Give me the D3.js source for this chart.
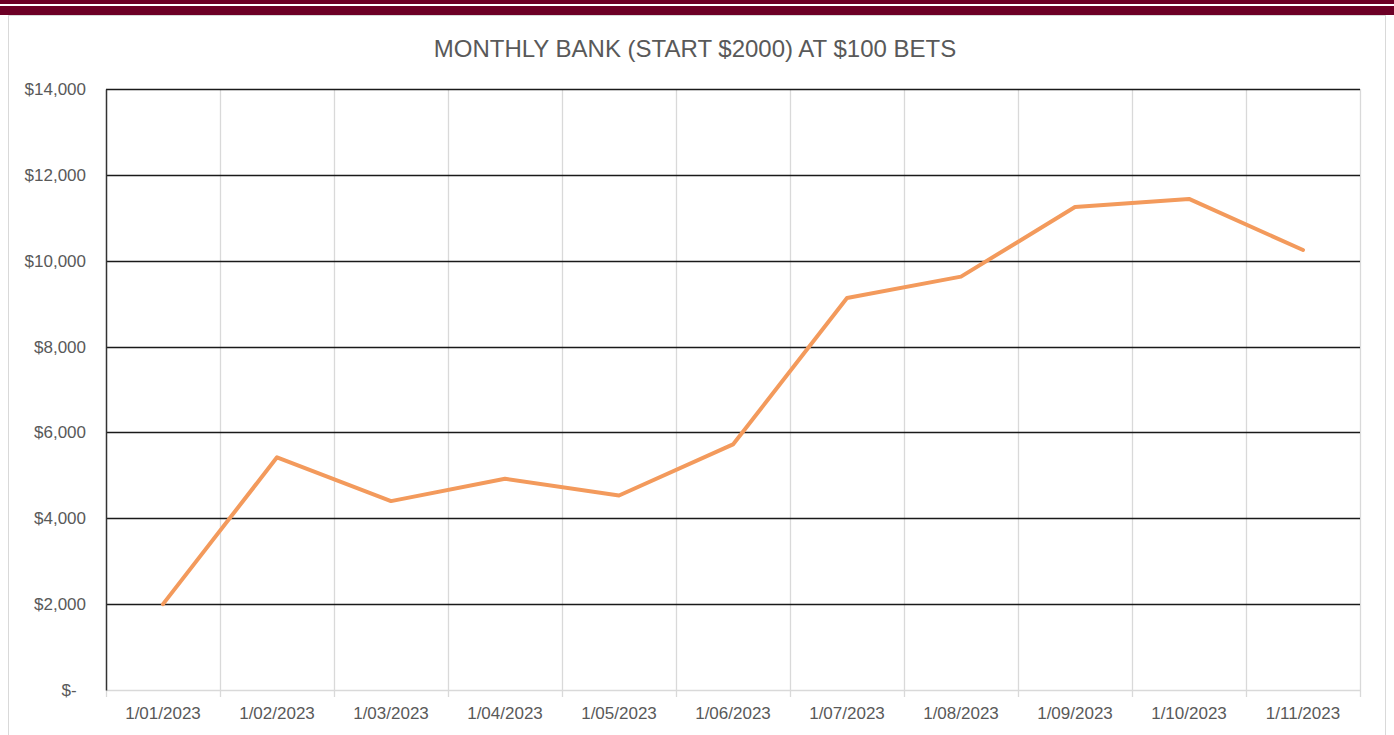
<!DOCTYPE html>
<html>
<head>
<meta charset="utf-8">
<script src="https://cdn.jsdelivr.net/npm/d3@7"></script>
<style>
  body { margin: 0; background: #fff; }
  text { font-family: 'Liberation Sans', Arial, sans-serif; }
</style>
</head>
<body>
<div id="chart"></div>
<script>
// data
const months = [ '1/01/2023', '1/02/2023', '1/03/2023', '1/04/2023', '1/05/2023', '1/06/2023',
                 '1/07/2023', '1/08/2023', '1/09/2023', '1/10/2023', '1/11/2023' ];
const bank = [ 2000, 5420, 4400, 4920, 4530, 5720, 9130, 9630, 11250, 11440, 10250 ];
const yTicks = [ 0, 2000, 4000, 6000, 8000, 10000, 12000, 14000 ];

const width = 1394, height = 735;
const margin = { top: 89, right: 34, bottom: 45, left: 106 },
    plotWidth = width - margin.left - margin.right,
    plotHeight = height - margin.top - margin.bottom;

const svg = d3.select( '#chart' )
  .append( 'svg' )
    .attr( 'width', width )
    .attr( 'height', height );

// maroon header strips
svg.append( 'rect' ).attr( 'x', 0 ).attr( 'y', 0 ).attr( 'width', width ).attr( 'height', 4 ).attr( 'fill', '#6d0026' );
svg.append( 'rect' ).attr( 'x', 0 ).attr( 'y', 6 ).attr( 'width', width ).attr( 'height', 9 ).attr( 'fill', '#6d0026' );

// chart frame
svg.append( 'rect' )
  .attr( 'x', 8.5 ).attr( 'y', 15.5 )
  .attr( 'width', 1377 ).attr( 'height', 740 )
  .attr( 'fill', 'none' ).attr( 'stroke', '#d9d9d9' );

svg.append( 'text' )
  .attr( 'x', 695 ).attr( 'y', 57 )
  .attr( 'text-anchor', 'middle' )
  .attr( 'fill', '#595959' )
  .style( 'font-size', '24px' )
  .text( 'MONTHLY BANK (START $2000) AT $100 BETS' );

const g = svg.append( 'g' )
  .attr( 'transform', 'translate(' + margin.left + ',' + margin.top + ')' );

const x = d3.scaleBand()
  .domain( months )
  .range( [ 0, plotWidth ] );

const y = d3.scaleLinear()
  .domain( [ 0, 14000 ] )
  .range( [ plotHeight, 0 ] );

// vertical light gridlines at category boundaries
g.append( 'g' )
  .selectAll( 'line' )
  .data( months )
  .enter().append( 'line' )
    .attr( 'x1', function( d ) { return Math.round( x( d ) + x.bandwidth() ) + 0.5; } )
    .attr( 'x2', function( d ) { return Math.round( x( d ) + x.bandwidth() ) + 0.5; } )
    .attr( 'y1', 0 )
    .attr( 'y2', plotHeight + 7 )
    .attr( 'stroke', '#d9d9d9' )
    .attr( 'stroke-width', 1.3 );

// x axis
const xAxis = g.append( 'g' )
  .attr( 'transform', 'translate(0,' + plotHeight + ')' )
  .call( d3.axisBottom( x ).tickSize( 0 ).tickPadding( 17 ) );
xAxis.select( '.domain' ).attr( 'stroke', '#d9d9d9' ).attr( 'stroke-width', 1.3 );
xAxis.selectAll( 'text' ).attr( 'fill', '#595959' ).style( 'font-size', '17px' );
g.append( 'line' )
  .attr( 'x1', 0.5 ).attr( 'x2', 0.5 )
  .attr( 'y1', plotHeight ).attr( 'y2', plotHeight + 7 )
  .attr( 'stroke', '#d9d9d9' ).attr( 'stroke-width', 1.3 );

// horizontal gridlines
g.append( 'g' )
  .selectAll( 'line' )
  .data( yTicks.filter( function( d ) { return d > 0; } ) )
  .enter().append( 'line' )
    .attr( 'x1', 0 ).attr( 'x2', plotWidth )
    .attr( 'y1', function( d ) { return Math.round( y( d ) ) + 0.5; } )
    .attr( 'y2', function( d ) { return Math.round( y( d ) ) + 0.5; } )
    .attr( 'stroke', '#1a1a1a' )
    .attr( 'stroke-width', 1.3 );

// y axis
const yAxis = g.append( 'g' )
  .call( d3.axisLeft( y ).tickValues( yTicks ).tickSize( 0 ).tickPadding( 20 )
    .tickFormat( function( d ) { return d === 0 ? '$-  ' : '$' + d3.format( ',' )( d ); } ) );
yAxis.select( '.domain' ).attr( 'stroke', '#333' ).attr( 'stroke-width', 1.5 );
yAxis.selectAll( 'text' ).attr( 'fill', '#595959' ).style( 'font-size', '17px' ).style( 'white-space', 'pre' );

// line
const line = d3.line()
  .x( function( d, i ) { return x( months[i] ) + x.bandwidth() / 2; } )
  .y( function( d ) { return y( d ); } );

g.append( 'path' )
  .datum( bank )
  .attr( 'd', line )
  .attr( 'fill', 'none' )
  .attr( 'stroke', '#f39a5c' )
  .attr( 'stroke-width', 4 )
  .attr( 'stroke-linecap', 'round' )
  .attr( 'stroke-linejoin', 'round' );
</script>
</body>
</html>
